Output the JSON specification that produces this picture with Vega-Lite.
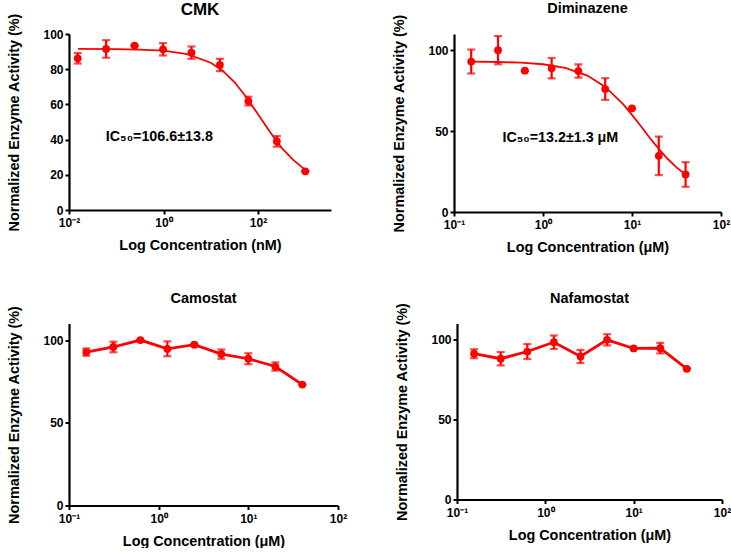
{
  "$schema": "https://vega.github.io/schema/vega-lite/v6.json",
  "background": "white",
  "padding": {"top": 0, "left": 6, "right": 0, "bottom": 0},
  "config": {
    "font": "Liberation Sans",
    "view": {"stroke": null},
    "axis": {
      "grid": false, "labelFlush": false,
      "domainColor": "black", "domainWidth": 2.2,
      "tickColor": "black", "tickWidth": 2, "tickSize": 4,
      "labelFont": "Liberation Sans", "labelFontWeight": "bold", "labelFontSize": 12, "labelColor": "black", "labelPadding": 2,
      "titleFont": "Liberation Sans", "titleFontWeight": "bold", "titleFontSize": 14.4, "titleColor": "black"
    },
    "axisY": {"titlePadding": 21},
    "axisX": {"titlePadding": 10, "labelPadding": 3.5},
    "title": {"font": "Liberation Sans", "fontSize": 14.5, "fontWeight": "bold", "color": "black"}
  },
  "datasets": {
    "cmk": [
      {"conc": 0.0153, "act": 86.2, "err": 3},
      {"conc": 0.061, "act": 91.5, "err": 5},
      {"conc": 0.244, "act": 93.4, "err": 0},
      {"conc": 0.977, "act": 91.3, "err": 3.5},
      {"conc": 3.9, "act": 89.4, "err": 3.5},
      {"conc": 15.6, "act": 82.4, "err": 3.5},
      {"conc": 62.5, "act": 61.9, "err": 2.5},
      {"conc": 250, "act": 39, "err": 3},
      {"conc": 1000, "act": 22, "err": 0}
    ],
    "cmkfit": [
      {"conc": 0.0155, "act": 91.5},
      {"conc": 0.1, "act": 91.4},
      {"conc": 0.3, "act": 91.1},
      {"conc": 1, "act": 90.5},
      {"conc": 3.16, "act": 88.6},
      {"conc": 10, "act": 83.7},
      {"conc": 17.8, "act": 79.2},
      {"conc": 31.6, "act": 72.7},
      {"conc": 56.2, "act": 64.2},
      {"conc": 100, "act": 54.4},
      {"conc": 178, "act": 44.4},
      {"conc": 316, "act": 35.3},
      {"conc": 562, "act": 28.3},
      {"conc": 1000, "act": 22.8}
    ],
    "dim": [
      {"conc": 0.156, "act": 93.0, "err": 7.4},
      {"conc": 0.3125, "act": 100, "err": 8.7},
      {"conc": 0.625, "act": 87.3, "err": 0},
      {"conc": 1.25, "act": 88.9, "err": 6.3},
      {"conc": 2.5, "act": 87.1, "err": 4.1},
      {"conc": 5, "act": 76, "err": 6.7},
      {"conc": 10, "act": 64.1, "err": 0},
      {"conc": 20, "act": 34.7, "err": 11.9},
      {"conc": 40, "act": 23.2, "err": 7.6}
    ],
    "dimfit": [
      {"conc": 0.158, "act": 92.9},
      {"conc": 0.316, "act": 92.7},
      {"conc": 0.562, "act": 92.3},
      {"conc": 1, "act": 91.3},
      {"conc": 1.78, "act": 89.1},
      {"conc": 3.16, "act": 84.3},
      {"conc": 5.01, "act": 77.3},
      {"conc": 7.94, "act": 66.6},
      {"conc": 10, "act": 60.0},
      {"conc": 12.6, "act": 53.0},
      {"conc": 15.8, "act": 45.9},
      {"conc": 20, "act": 39.0},
      {"conc": 25.1, "act": 32.9},
      {"conc": 31.6, "act": 27.6},
      {"conc": 40.7, "act": 22.9}
    ],
    "cam": [
      {"conc": 0.156, "act": 92.7, "err": 2.2},
      {"conc": 0.3125, "act": 95.8, "err": 3.2},
      {"conc": 0.625, "act": 100, "err": 0},
      {"conc": 1.25, "act": 94.7, "err": 4.5},
      {"conc": 2.5, "act": 97.2, "err": 0},
      {"conc": 5, "act": 91.5, "err": 2.8},
      {"conc": 10, "act": 88.7, "err": 3.3},
      {"conc": 20, "act": 84, "err": 2.5},
      {"conc": 40, "act": 73.1, "err": 0}
    ],
    "naf": [
      {"conc": 0.156, "act": 91.1, "err": 2.8},
      {"conc": 0.3125, "act": 88, "err": 4.2},
      {"conc": 0.625, "act": 92.5, "err": 4.7},
      {"conc": 1.25, "act": 98.3, "err": 4.2},
      {"conc": 2.5, "act": 89.4, "err": 4.1},
      {"conc": 5, "act": 99.8, "err": 3.5},
      {"conc": 10, "act": 94.4, "err": 0},
      {"conc": 20, "act": 94.6, "err": 3.3},
      {"conc": 40, "act": 81.7, "err": 0}
    ],
    "cmklabel": [{"conc": 0.06, "act": 41.7, "label": "IC₅₀=106.6±13.8"}],
    "dimlabel": [{"conc": 0.35, "act": 45.6, "label": "IC₅₀=13.2±1.3 μM"}]
  },
  "vconcat": [
    {
      "hconcat": [
        {
          "title": {"text": "CMK", "fontSize": 17, "offset": -6.5},
          "width": 262, "height": 176,
          "encoding": {
            "x": {"field": "conc", "type": "quantitative", "scale": {"type": "log", "domain": [0.01, 3500], "nice": false},
                  "axis": {"title": "Log Concentration (nM)", "values": [0.01, 1, 100], "labelExpr": "datum.value < 0.05 ? '10⁻²' : datum.value < 5 ? '10⁰' : '10²'"}},
            "y": {"field": "act", "type": "quantitative", "scale": {"domain": [0, 100], "nice": false},
                  "axis": {"title": "Normalized Enzyme Activity (%)", "values": [0, 20, 40, 60, 80, 100]}}
          },
          "layer": [
            {"data": {"name": "cmkfit"}, "mark": {"type": "line", "color": "#ff0000", "strokeWidth": 1.8}},
            {"data": {"name": "cmk"}, "mark": {"type": "errorbar", "color": "#ff0000", "thickness": 2.2, "ticks": {"size": 8, "thickness": 2.2, "color": "#ff0000"}},
             "encoding": {"yError": {"field": "err"}}},
            {"data": {"name": "cmk"}, "mark": {"type": "point", "filled": true, "color": "#ff0000", "opacity": 1, "size": 60}},
            {"data": {"name": "cmklabel"}, "mark": {"type": "text", "align": "left", "baseline": "middle", "fontSize": 14.3, "fontWeight": "bold", "color": "black"},
             "encoding": {"text": {"field": "label"}}}
          ]
        },
        {
          "title": {"text": "Diminazene", "offset": -2.5},
          "width": 267, "height": 178,
          "encoding": {
            "x": {"field": "conc", "type": "quantitative", "scale": {"type": "log", "domain": [0.1, 100], "nice": false},
                  "axis": {"title": "Log Concentration (μM)", "values": [0.1, 1, 10, 100], "labelExpr": "datum.value < 0.5 ? '10⁻¹' : datum.value < 5 ? '10⁰' : datum.value < 50 ? '10¹' : '10²'"}},
            "y": {"field": "act", "type": "quantitative", "scale": {"domain": [0, 110], "nice": false},
                  "axis": {"title": "Normalized Enzyme Activity (%)", "values": [0, 50, 100]}}
          },
          "layer": [
            {"data": {"name": "dimfit"}, "mark": {"type": "line", "color": "#ff0000", "strokeWidth": 1.8}},
            {"data": {"name": "dim"}, "mark": {"type": "errorbar", "color": "#ff0000", "thickness": 2.2, "ticks": {"size": 8, "thickness": 2.2, "color": "#ff0000"}},
             "encoding": {"yError": {"field": "err"}}},
            {"data": {"name": "dim"}, "mark": {"type": "point", "filled": true, "color": "#ff0000", "opacity": 1, "size": 60}},
            {"data": {"name": "dimlabel"}, "mark": {"type": "text", "align": "left", "baseline": "middle", "fontSize": 14.3, "fontWeight": "bold", "color": "black"},
             "encoding": {"text": {"field": "label"}}}
          ]
        }
      ],
      "spacing": 60
    },
    {
      "hconcat": [
        {
          "title": {"text": "Camostat", "offset": -1.25},
          "width": 269, "height": 182,
          "encoding": {
            "x": {"field": "conc", "type": "quantitative", "scale": {"type": "log", "domain": [0.1, 100], "nice": false},
                  "axis": {"title": "Log Concentration (μM)", "values": [0.1, 1, 10, 100], "labelExpr": "datum.value < 0.5 ? '10⁻¹' : datum.value < 5 ? '10⁰' : datum.value < 50 ? '10¹' : '10²'"}},
            "y": {"field": "act", "type": "quantitative", "scale": {"domain": [0, 110], "nice": false},
                  "axis": {"title": "Normalized Enzyme Activity (%)", "values": [0, 50, 100]}}
          },
          "layer": [
            {"data": {"name": "cam"}, "mark": {"type": "line", "color": "#ff0000", "strokeWidth": 2.8}},
            {"data": {"name": "cam"}, "mark": {"type": "errorbar", "color": "#ff0000", "thickness": 2.2, "ticks": {"size": 8, "thickness": 2.2, "color": "#ff0000"}},
             "encoding": {"yError": {"field": "err"}}},
            {"data": {"name": "cam"}, "mark": {"type": "point", "filled": true, "color": "#ff0000", "opacity": 1, "size": 60}}
          ]
        },
        {
          "title": {"text": "Nafamostat", "offset": -4.25},
          "width": 265, "height": 176,
          "encoding": {
            "x": {"field": "conc", "type": "quantitative", "scale": {"type": "log", "domain": [0.1, 100], "nice": false},
                  "axis": {"title": "Log Concentration (μM)", "values": [0.1, 1, 10, 100], "labelExpr": "datum.value < 0.5 ? '10⁻¹' : datum.value < 5 ? '10⁰' : datum.value < 50 ? '10¹' : '10²'"}},
            "y": {"field": "act", "type": "quantitative", "scale": {"domain": [0, 110], "nice": false},
                  "axis": {"title": "Normalized Enzyme Activity (%)", "values": [0, 50, 100]}}
          },
          "layer": [
            {"data": {"name": "naf"}, "mark": {"type": "line", "color": "#ff0000", "strokeWidth": 2.8}},
            {"data": {"name": "naf"}, "mark": {"type": "errorbar", "color": "#ff0000", "thickness": 2.2, "ticks": {"size": 8, "thickness": 2.2, "color": "#ff0000"}},
             "encoding": {"yError": {"field": "err"}}},
            {"data": {"name": "naf"}, "mark": {"type": "point", "filled": true, "color": "#ff0000", "opacity": 1, "size": 60}}
          ]
        }
      ],
      "spacing": 47
    }
  ],
  "spacing": 36.5
}
